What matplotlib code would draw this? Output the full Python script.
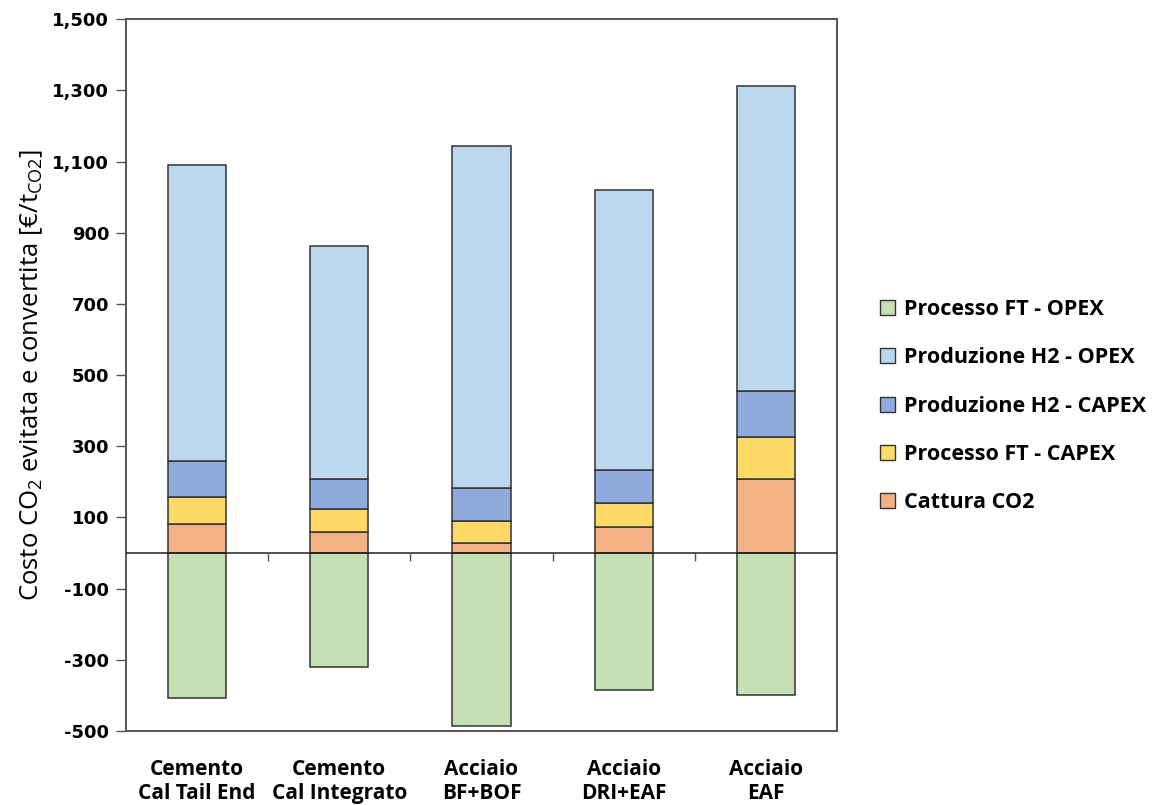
import matplotlib
matplotlib.use("Agg")
import matplotlib.pyplot as plt
from matplotlib.patches import Patch
import numpy as np

plt.rcParams['font.family'] = ['Open Sans', 'DejaVu Sans']
plt.rcParams['mathtext.fontset'] = 'custom'
plt.rcParams['mathtext.rm'] = 'Open Sans'
plt.rcParams['mathtext.it'] = 'Open Sans:italic'
plt.rcParams['mathtext.bf'] = 'Open Sans:bold'

categories = ["Cemento\nCal Tail End", "Cemento\nCal Integrato", "Acciaio\nBF+BOF",
              "Acciaio\nDRI+EAF", "Acciaio\nEAF"]

cattura_co2 = [82, 60, 27, 74, 208]
ft_capex = [76, 65, 63, 66, 119]
h2_capex = [100, 83, 94, 94, 129]
h2_opex = [832, 655, 960, 785, 858]
ft_opex = [-407, -320, -485, -386, -400]

series_labels = ["Cattura CO2", "Processo FT - CAPEX", "Produzione H2 - CAPEX",
                 "Produzione H2 - OPEX", "Processo FT - OPEX"]
colors = ["#F4B183", "#FFD966", "#8FAADC", "#BDD7EE", "#C5E0B4"]

y_ticks = list(range(-500, 1501, 200))

fig = plt.figure(figsize=(11.66, 8.05), dpi=100)
ax = fig.add_axes([0.108, 0.092, 0.610, 0.884])

x = np.arange(len(categories))
width = 0.41
edge = "#333333"

bottom = np.zeros(len(categories))
positive = [cattura_co2, ft_capex, h2_capex, h2_opex]
for vals, col in zip(positive, colors[:4]):
    ax.bar(x, vals, width, bottom=bottom, color=col, edgecolor=edge, linewidth=1.1, zorder=2)
    bottom += np.array(vals)
ax.bar(x, ft_opex, width, color=colors[4], edgecolor=edge, linewidth=1.1, zorder=2)

ax.set_xlim(-0.5, len(categories) - 0.5)
ax.set_ylim(-500, 1500)
ax.set_yticks(y_ticks)
ax.set_yticklabels([f"{v:,}" for v in y_ticks], fontfamily="DejaVu Sans",
                   fontweight="bold", fontsize=13)
ax.tick_params(axis='y', direction='out', length=7, width=1, color="#555555", pad=5)

ax.set_xticks(x)
ax.set_xticklabels(categories, fontweight="bold", fontsize=15, linespacing=1.22)
ax.tick_params(axis='x', length=0, pad=20)

# zero line with separators between categories
ax.axhline(0, color="#222222", linewidth=1.1, zorder=3)
ax.vlines(x[:-1] + 0.5, -22, 0, color="#555555", linewidth=1, zorder=3)

for s in ax.spines.values():
    s.set_color("#555555")
    s.set_linewidth(1.4)

ax.set_ylabel(r"Costo CO$_2$ evitata e convertita [€/t$_{\mathrm{CO2}}$]", fontsize=18.5, labelpad=5)

handles = [Patch(facecolor=c, edgecolor=edge, linewidth=1, label=l)
           for c, l in zip(colors[::-1], series_labels[::-1])]
fig.legend(handles=handles, loc="center left", bbox_to_anchor=(0.738, 0.4955),
           frameon=False, prop={'family': 'Open Sans', 'weight': 'bold', 'size': 15.5},
           handlelength=0.7, handleheight=0.7, handletextpad=0.4, labelspacing=1.27)

fig.savefig("out.png", dpi=100)
